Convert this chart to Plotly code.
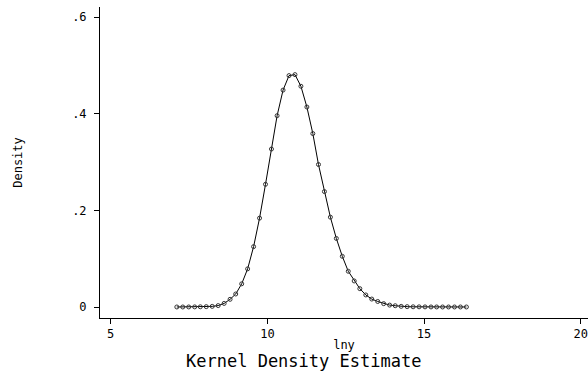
import plotly.graph_objects as go

lny = [7.11, 7.30, 7.49, 7.68, 7.86, 8.05, 8.24, 8.43, 8.62, 8.81,
       8.99, 9.18, 9.37, 9.56, 9.75, 9.94, 10.13, 10.31, 10.50, 10.69,
       10.88, 11.07, 11.26, 11.45, 11.63, 11.82, 12.01, 12.20, 12.39, 12.58,
       12.77, 12.95, 13.14, 13.33, 13.52, 13.71, 13.90, 14.08, 14.27, 14.46,
       14.65, 14.84, 15.03, 15.22, 15.40, 15.59, 15.78, 15.97, 16.16, 16.35]
density = [0.0001, 0.0001, 0.0002, 0.0003, 0.0005, 0.0008, 0.0014, 0.003, 0.0075, 0.016,
           0.027, 0.048, 0.079, 0.125, 0.184, 0.254, 0.327, 0.396, 0.449, 0.479,
           0.481, 0.457, 0.414, 0.359, 0.295, 0.239, 0.186, 0.142, 0.105, 0.074,
           0.054, 0.038, 0.025, 0.0165, 0.0115, 0.007, 0.004, 0.0027, 0.0014, 0.0008,
           0.0005, 0.0004, 0.0003, 0.0002, 0.0002, 0.0001, 0.0001, 0.0001, 0.0001, 0.0001]

x_ticks = [5, 10, 15, 20]
x_ticklabels = ["5", "10", "15", "20"]
y_ticks = [0, 0.2, 0.4, 0.6]
y_ticklabels = ["0", ".2", ".4", ".6"]

fig = go.Figure()
fig.add_trace(go.Scatter(
    x=lny, y=density, mode="lines+markers",
    line=dict(color="black", width=1),
    marker=dict(symbol="circle-open", size=4, color="#333333", line=dict(width=1)),
    showlegend=False, hoverinfo="skip",
))

tickfont = dict(family="DejaVu Sans Mono", size=12, color="black")
labelfont = dict(family="DejaVu Sans Mono", size=12, color="black")
fig.update_layout(
    width=588, height=374,
    margin=dict(l=100, r=0, t=7, b=56),
    paper_bgcolor="white", plot_bgcolor="white",
    xaxis=dict(range=[4.659, 20.23], tickvals=x_ticks, ticktext=x_ticklabels,
               showgrid=False, zeroline=False, showline=True, linecolor="black",
               linewidth=1, ticks="outside", ticklen=5, tickcolor="black",
               tickfont=tickfont, automargin=False, ticklabeloverflow="allow",
               title=dict(text="lny", font=labelfont, standoff=0)),
    yaxis=dict(range=[-0.0227, 0.621], tickvals=y_ticks, ticktext=y_ticklabels,
               showgrid=False, zeroline=False, showline=True, linecolor="black",
               linewidth=1, ticks="outside", ticklen=5, tickcolor="black",
               tickfont=tickfont, ticklabelstandoff=5, automargin=False,
               title=dict(text="Density", font=labelfont, standoff=46)),
    annotations=[dict(text="Kernel Density Estimate", xref="paper", yref="paper",
                      x=(303.5 - 100) / 488, y=-(361 - 318) / 311, xanchor="center", yanchor="middle",
                      showarrow=False, font=dict(family="DejaVu Sans Mono", size=17, color="black"))],
)
fig.write_html("out.html", config={"displayModeBar": False},
               post_script="document.body.style.margin='0px';document.body.style.overflow='hidden';")
